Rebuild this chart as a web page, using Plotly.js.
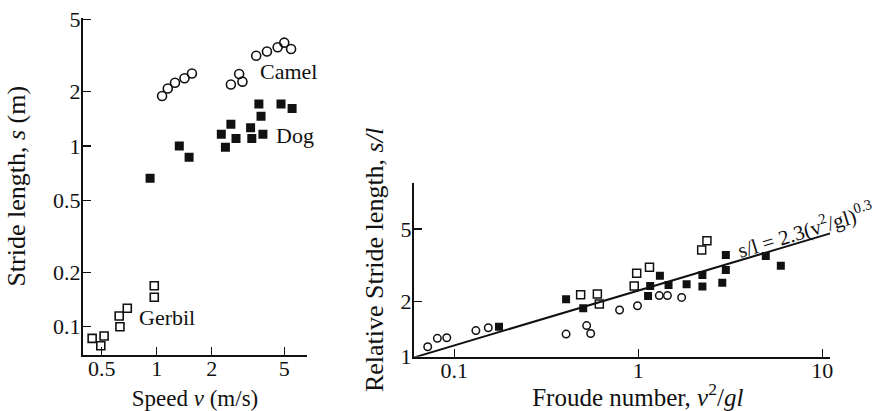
<!DOCTYPE html>
<html>
<head>
<meta charset="utf-8">
<script src="https://cdn.plot.ly/plotly-3.0.1.min.js"></script>
<style>html,body{margin:0;padding:0;background:#fff}#chart{width:877px;height:411px}</style>
</head>
<body>
<div id="chart"></div>
<script>
// ---- Left panel: stride length s (m) vs speed v (m/s) ----
const camelSpeed  = [1.07, 1.15, 1.26, 1.42, 1.56, 2.55, 2.83, 2.95, 3.51, 4.02, 4.60, 5.00, 5.45];
const camelStride = [1.89, 2.08, 2.24, 2.37, 2.52, 2.19, 2.50, 2.27, 3.16, 3.33, 3.52, 3.73, 3.44];

const dogSpeed  = [0.92, 1.33, 1.505, 2.26, 2.38, 2.55, 2.72, 3.27, 3.32, 3.63, 3.73, 3.82, 4.80, 5.52];
const dogStride = [0.662, 1.00, 0.866, 1.16, 0.984, 1.32, 1.10, 1.26, 1.10, 1.71, 1.46, 1.16, 1.71, 1.61];

const gerbilSpeed  = [0.443, 0.494, 0.515, 0.629, 0.623, 0.690, 0.97, 0.97];
const gerbilStride = [0.0862, 0.0785, 0.0888, 0.100, 0.1146, 0.1264, 0.1686, 0.1455];

const leftXTicks = [0.5, 1, 2, 5];
const leftXTickText = ['0.5', '1', '2', '5'];
const leftYTicks = [0.1, 0.2, 0.5, 1, 2, 5];
const leftYTickText = ['0.1', '0.2', '0.5', '1', '2', '5'];

// ---- Right panel: relative stride s/l vs Froude number v^2/gl ----
const camelFroude = [0.0717, 0.0809, 0.091, 0.131, 0.153, 0.405, 0.524, 0.551, 0.791, 0.99, 1.30, 1.44, 1.72];
const camelRel    = [1.134, 1.26, 1.27, 1.39, 1.44, 1.33, 1.48, 1.34, 1.80, 1.90, 2.16, 2.16, 2.11];

const dogFroude = [0.175, 0.405, 0.502, 1.13, 1.16, 1.31, 1.46, 1.83, 2.23, 2.23, 2.86, 2.99, 2.99, 4.93, 5.95];
const dogRel    = [1.46, 2.06, 1.84, 2.15, 2.44, 2.77, 2.47, 2.49, 2.80, 2.42, 2.54, 2.98, 3.60, 3.56, 3.14];

const gerbilFroude = [0.486, 0.599, 0.614, 0.95, 0.98, 1.15, 2.21, 2.36];
const gerbilRel    = [2.18, 2.20, 1.94, 2.44, 2.86, 3.09, 3.84, 4.31];

const rightXTicks = [0.1, 1, 10];
const rightXTickText = ['0.1', '1', '10'];
const rightYTicks = [1, 2, 5];
const rightYTickText = ['1', '2', '5'];

// fitted relation shown in the figure: s/l = 2.3 (v^2/gl)^0.3
const fitCoef = 2.3;
const fitExp = 0.3;
const fitX = [0.0604, 11.05];
const fitY = fitX.map(x => fitCoef * Math.pow(x, fitExp));

const FONT = 'Liberation Serif, Times New Roman, serif';
const INK = '#111';

const traces = [
  {x: camelSpeed, y: camelStride, mode: 'markers', type: 'scatter', xaxis: 'x', yaxis: 'y', name: 'Camel',
   marker: {symbol: 'circle-open', size: 9, color: INK, line: {width: 1.6, color: INK}}},
  {x: dogSpeed, y: dogStride, mode: 'markers', type: 'scatter', xaxis: 'x', yaxis: 'y', name: 'Dog',
   marker: {symbol: 'square', size: 9, color: INK}},
  {x: gerbilSpeed, y: gerbilStride, mode: 'markers', type: 'scatter', xaxis: 'x', yaxis: 'y', name: 'Gerbil',
   marker: {symbol: 'square-open', size: 8, color: INK, line: {width: 1.6, color: INK}}},

  {x: fitX, y: fitY, mode: 'lines', type: 'scatter', xaxis: 'x2', yaxis: 'y2', name: 'fit',
   line: {color: INK, width: 2}},
  {x: camelFroude, y: camelRel, mode: 'markers', type: 'scatter', xaxis: 'x2', yaxis: 'y2', name: 'Camel',
   marker: {symbol: 'circle-open', size: 7.5, color: INK, line: {width: 1.5, color: INK}}},
  {x: dogFroude, y: dogRel, mode: 'markers', type: 'scatter', xaxis: 'x2', yaxis: 'y2', name: 'Dog',
   marker: {symbol: 'square', size: 8, color: INK}},
  {x: gerbilFroude, y: gerbilRel, mode: 'markers', type: 'scatter', xaxis: 'x2', yaxis: 'y2', name: 'Gerbil',
   marker: {symbol: 'square-open', size: 8, color: INK, line: {width: 1.5, color: INK}}}
];

function axisBase(labelShift) {
  return {
    type: 'log', showgrid: false, zeroline: false, showline: true, linecolor: INK, linewidth: 2,
    ticks: 'inside', ticklen: 8, tickwidth: 1.2, tickcolor: INK, mirror: false,
    tickfont: {family: FONT, size: 22, color: INK}, tickmode: 'array', fixedrange: true,
    ticklabelstandoff: labelShift
  };
}

const NB = '&nbsp;';

const layout = {
  width: 877, height: 411,
  margin: {l: 0, r: 0, t: 0, b: 0},
  paper_bgcolor: '#fff', plot_bgcolor: 'rgba(0,0,0,0)',
  showlegend: false,
  font: {family: FONT, color: INK},
  xaxis: Object.assign(axisBase(-7), {
    domain: [83/877, 307/877], range: [-0.4038, 0.8236], anchor: 'y',
    tickvals: leftXTicks, ticktext: leftXTickText,
    title: {text: 'Speed <i>v</i> (m/s)', font: {family: FONT, size: 23, color: INK}, standoff: 12}
  }),
  yaxis: Object.assign(axisBase(-4), {
    domain: [56/411, 393.5/411], range: [-1.1566, 0.711], anchor: 'x',
    tickvals: leftYTicks, ticktext: leftYTickText,
    title: {text: 'Stride length, <i>s</i> (m)', font: {family: FONT, size: 26, color: INK}, standoff: 20}
  }),
  xaxis2: Object.assign(axisBase(-7), {
    domain: [414/877, 830.3/877], range: [Math.log10(0.0604), Math.log10(11.05)], anchor: 'y2',
    tickvals: rightXTicks, ticktext: rightXTickText,
    title: {text: NB.repeat(5) + 'Froude number, <i>v</i><sup>2</sup>/<i>gl</i>',
            font: {family: FONT, size: 25, color: INK}, standoff: 14}
  }),
  yaxis2: Object.assign(axisBase(-4), {
    domain: [54.3/411, 228.3/411], range: [0, 0.952], anchor: 'x2',
    tickvals: rightYTicks, ticktext: rightYTickText,
    title: {text: NB.repeat(3) + 'Relative Stride length, <i>s/l</i>',
            font: {family: FONT, size: 26, color: INK}, standoff: 9}
  }),
  annotations: [
    {xref: 'x', yref: 'y', x: Math.log10(5.26), y: Math.log10(2.60), text: 'Camel', showarrow: false,
     font: {family: FONT, size: 22, color: INK}},
    {xref: 'x', yref: 'y', x: Math.log10(5.75), y: Math.log10(1.14), text: 'Dog', showarrow: false,
     font: {family: FONT, size: 22, color: INK}},
    {xref: 'x', yref: 'y', x: Math.log10(1.135), y: Math.log10(0.112), text: 'Gerbil', showarrow: false,
     font: {family: FONT, size: 22, color: INK}},
    {xref: 'x2', yref: 'y2', x: Math.log10(8.1), y: Math.log10(4.98),
     text: 's/l = 2.3(v<sup>2</sup>/gl)<sup>0.3</sup>', showarrow: false, textangle: -17,
     font: {family: FONT, size: 21, color: INK}}
  ]
};

Plotly.newPlot('chart', traces, layout, {staticPlot: true, displayModeBar: false});
</script>
</body>
</html>
